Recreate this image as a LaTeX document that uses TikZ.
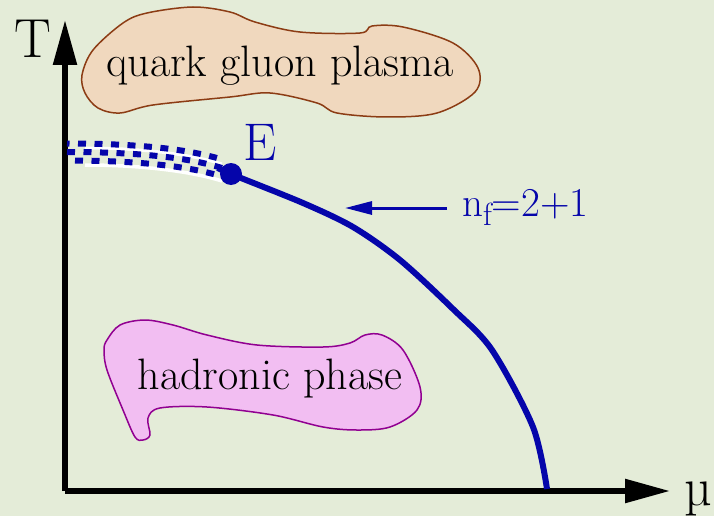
\documentclass[tikz,border=0pt]{standalone}
\usetikzlibrary{arrows.meta}
\definecolor{bg}{RGB}{228,236,216}
\definecolor{pblue}{RGB}{5,5,170}
\definecolor{qgpfill}{RGB}{240,216,190}
\definecolor{qgpline}{RGB}{140,60,20}
\definecolor{hadfill}{RGB}{242,190,242}
\definecolor{hadline}{RGB}{145,0,145}
\tikzset{
  axis/.style={line width=5.5pt, -{Triangle[length=45pt,width=23pt]}},
  bandrow/.style={pblue, line width=6pt, dash pattern=on 8pt off 8.5pt},
  bigtext/.style={font=\fontsize{44}{44}\selectfont, inner sep=0pt, anchor=base},
}
\begin{document}
\begin{tikzpicture}[x=1pt,y=-1pt]
\fill[bg] (0,0) rectangle (714,516);
\useasboundingbox (0,0) rectangle (714,516);

% blobs
\draw[qgpline, fill=qgpfill, line width=1.5pt] plot[smooth cycle, tension=0.55] coordinates {
 (82,75) (93,50) (123,23) (147,13) (193,7) (230,12) (255,22) (300,32) (360,33) (372,26)
 (403,27) (453,43) (478,68) (475,92) (437,113) (387,117) (337,113) (317,103) (270,93)
 (230,97) (153,105) (120,113) (98,108) (85,93)};
\draw[hadline, fill=hadfill, line width=1.5pt] plot[smooth cycle, tension=0.55] coordinates {
 (107,340) (120,325) (145,320) (173,325) (207,335) (257,345) (323,347) (350,343) (365,335)
 (382,335) (403,350) (420,387) (417,410) (390,427) (357,430) (323,427) (273,415) (207,407)
 (160,408) (148,418) (150,435) (143,440) (135,437) (123,410) (107,370) (104,350)};
\node[bigtext] (qgp) at (280,77) {quark gluon plasma};
\node[bigtext] (had) at (270,389) {hadronic phase};

% axes
\coordinate (O) at (65,491);
\coordinate (Ttip) at (65,20);
\coordinate (Mtip) at (670,491);
\draw[axis] (O) -- (Ttip);
\draw[axis] (O) -- (Mtip);
\node[inner sep=0pt, anchor=base, font=\fontsize{55}{55}\selectfont] (T) at (33,58) {T};
\node[inner sep=0pt, anchor=base, font=\fontsize{54}{54}\selectfont] (mu) at (698,505) {µ};

% checkered crossover band
\draw[white, line width=3pt] (85,148) .. controls (140,148) and (190,154) .. (222,164);
\draw[white, line width=3.5pt] (85,165) .. controls (140,165) and (190,171) .. (222,181);
\draw[bandrow, dash phase=-11pt] (67,143.5) .. controls (140,143.5) and (190,149.5) .. (222,159.5);
\draw[bandrow] (67,152) .. controls (140,152) and (190,158) .. (222,168);
\draw[bandrow, dash phase=-8pt] (67,160.5) .. controls (140,160.5) and (190,166.5) .. (222,176.5);

% critical line
\coordinate (Estart) at (218,168);
\node[circle, fill=pblue, inner sep=0pt, minimum size=22pt] (E) at (231,174) {};
\coordinate (Eend) at (547,489);
\draw[pblue, line width=6pt] plot[smooth, tension=0.5] coordinates {
 (218,168) (231,174) (303,203) (353,227) (400,260) (453,309) (492,350) (533,427) (547,489)};
\node[inner sep=0pt, anchor=base, text=pblue, font=\fontsize{53}{53}\selectfont] (Elab) at (260,160) {E};

% n_f label and arrow
\node[inner sep=0pt, anchor=base west, text=pblue, font=\fontsize{41}{41}\selectfont] (nf) at (462,216)
 {n\raisebox{-9pt}{\fontsize{32}{32}\selectfont f}=2+1};
\coordinate (nfstart) at (447,208);
\coordinate (nftip) at (345,208);
\draw[pblue, line width=3pt, -{Triangle[length=27pt,width=13pt]}] (nfstart) -- (nftip);
\end{tikzpicture}
\end{document}
